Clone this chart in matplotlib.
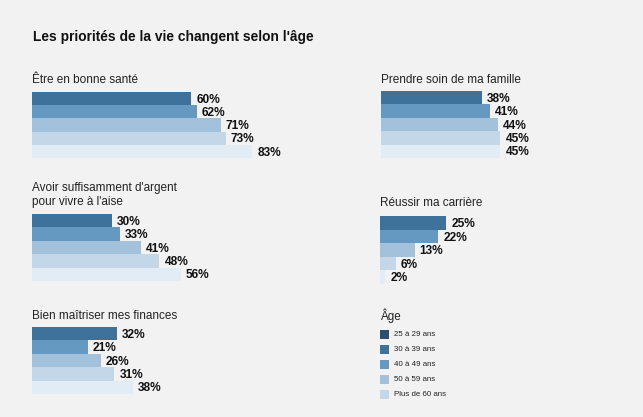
import matplotlib.pyplot as plt

W, H = 643, 417
BG = "#f2f2f2"
FONT = "Liberation Sans"

title = "Les priorités de la vie changent selon l'âge"
age_groups = ["25 à 29 ans", "30 à 39 ans", "40 à 49 ans", "50 à 59 ans", "Plus de 60 ans"]

sante = [60, 62, 71, 73, 83]
famille = [38, 41, 44, 45, 45]
argent = [30, 33, 41, 48, 56]
carriere = [25, 22, 13, 6, 2]
finances = [32, 21, 26, 31, 38]

bar_colors = ["#3f729b", "#6699c1", "#a3c1da", "#c4d7e8", "#e1ecf5"]
legend_colors = ["#2e4d6c", "#3f729b", "#6699c1", "#a3c1da", "#c4d7e8"]

PX_PER_PCT = 2.655

# (label, values, left px, top px, bottom px, label centre y px)
panels = [
    ("Être en bonne santé", sante, 32, 92, 158, 80),
    ("Prendre soin de ma famille", famille, 381, 91, 158, 80),
    ("Avoir suffisamment d'argent\npour vivre à l'aise", argent, 32, 214, 281, 195),
    ("Réussir ma carrière", carriere, 380, 216, 284, 203),
    ("Bien maîtriser mes finances", finances, 32, 327, 394, 316),
]

plt.rcParams["font.family"] = [FONT, "DejaVu Sans"]

fig = plt.figure(figsize=(W / 100, H / 100), dpi=100)
fig.patch.set_facecolor(BG)


def fx(px):
    return px / W


def fy(py):
    return 1 - py / H


fig.text(fx(33), fy(37), title, fontsize=9.9, fontweight="bold",
         va="center", ha="left", color="#111111")

for label, values, left, top, bottom, ly in panels:
    width_px = 300
    ax = fig.add_axes([fx(left), fy(bottom), width_px / W, (bottom - top) / H])
    ax.set_facecolor("none")
    pos = list(range(len(values)))
    ax.barh(pos, values, height=1.0, color=bar_colors, linewidth=0)
    ax.set_xlim(0, width_px / PX_PER_PCT)
    ax.set_ylim(len(values) - 0.5, -0.5)
    ax.axis("off")
    for p, v in zip(pos, values):
        ax.annotate(f"{v}%", (v, p), xytext=(3.6, -0.8), textcoords="offset points",
                    ha="left", va="center", fontsize=8.6, fontweight="bold",
                    color="#111111", annotation_clip=False)
    fig.text(fx(left), fy(ly), label, fontsize=8.5, va="center", ha="left",
             color="#222222", linespacing=1.2)

# legend
fig.text(fx(381), fy(316), "Âge", fontsize=8.4, va="center", ha="left", color="#222222")
for i, (name, col) in enumerate(zip(age_groups, legend_colors)):
    cy = 334 + i * 15.1
    fig.patches.append(plt.Rectangle((fx(380), fy(cy + 4.5)), 9 / W, 9 / H,
                                     transform=fig.transFigure, facecolor=col,
                                     edgecolor="none"))
    fig.text(fx(394), fy(cy), name, fontsize=5.7, va="center", ha="left",
             color="#222222")

fig.savefig("out.png", dpi=100, facecolor=BG)
